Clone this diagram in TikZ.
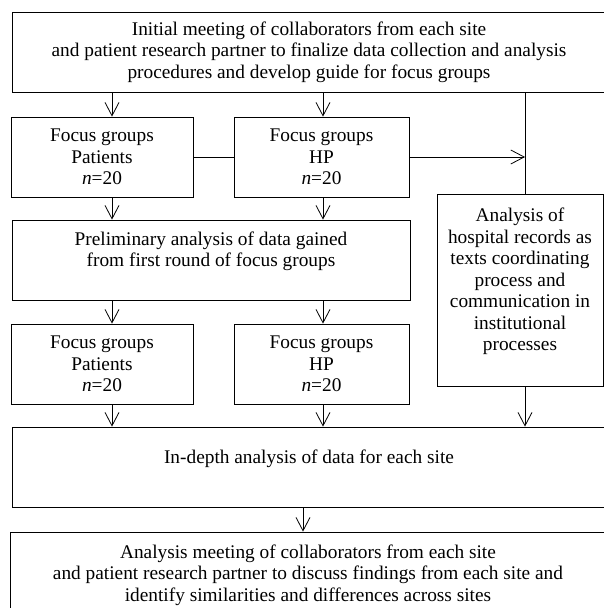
\documentclass[tikz,border=0pt]{standalone}
\usepackage{fontspec}
\setmainfont{Liberation Serif}
\usepackage{tikz}
\usetikzlibrary{calc}
\usetikzlibrary{arrows.meta}

\tikzset{
  stage/.style={draw, line width=0.6pt, align=center, inner sep=0pt,
    font=\fontsize{14.5}{16.1}\selectfont},
  flow/.style={-{Straight Barb[length=10pt, width=10.5pt, line width=0.6pt]}, line width=0.6pt}
}

\begin{document}
\begin{tikzpicture}[x=0.75pt, y=-0.75pt]
\clip (0,0) rectangle (604,608);
\useasboundingbox (0,0) rectangle (604,608);
\coordinate (colA) at (112, 0);
\coordinate (colB) at (323, 0);
\coordinate (colC) at (525, 0);
\coordinate (colD) at (303, 0);
\node [stage, minimum width=594*0.75pt, minimum height=80*0.75pt] (init) at (309, 52)
  {Initial meeting of collaborators from each site\\and patient research partner to finalize data collection and analysis\\procedures and develop guide for focus groups};
\node [stage, minimum width=182*0.75pt, minimum height=80*0.75pt] (fgp1) at (102, 157)
  {Focus groups\\Patients\\\textit{n}=20};
\node [stage, minimum width=175*0.75pt, minimum height=80*0.75pt] (fghp1) at (321.5, 157)
  {Focus groups\\HP\\\textit{n}=20};
\node [stage, minimum width=398*0.75pt, minimum height=80*0.75pt] (prelim) at (211, 260)
  {Preliminary analysis of data gained\\from first round of focus groups\\~};
\node [stage, minimum width=182*0.75pt, minimum height=80*0.75pt] (fgp2) at (102, 364)
  {Focus groups\\Patients\\\textit{n}=20};
\node [stage, minimum width=175*0.75pt, minimum height=80*0.75pt] (fghp2) at (321.5, 364)
  {Focus groups\\HP\\\textit{n}=20};
\node [stage, minimum width=166*0.75pt, minimum height=192*0.75pt] (records) at (520, 290)
  {Analysis of\\hospital records as\\texts coordinating\\process and\\communication in\\institutional\\processes\\~};
\node [stage, minimum width=594*0.75pt, minimum height=80*0.75pt] (indepth) at (309, 467)
  {In-depth analysis of data for each site\\~};
\node [stage, minimum width=596*0.75pt, minimum height=86*0.75pt] (final) at (308, 575)
  {Analysis meeting of collaborators from each site\\and patient research partner to discuss findings from each site and\\identify similarities and differences across sites};
\draw [flow] (init.south -| colA) -- (fgp1.north -| colA);
\draw [flow] (init.south -| colB) -- (fghp1.north -| colB);
\draw [line width=0.6pt] (init.south -| colC) -- (records.north -| colC);
\draw [line width=0.6pt] (fgp1.east) -- (fghp1.west);
\draw [flow] (fghp1.east) -- (fghp1.east -| colC);
\draw [flow] (fgp1.south -| colA) -- (prelim.north -| colA);
\draw [flow] (fghp1.south -| colB) -- (prelim.north -| colB);
\draw [flow] (prelim.south -| colA) -- (fgp2.north -| colA);
\draw [flow] (prelim.south -| colB) -- (fghp2.north -| colB);
\draw [flow] (fgp2.south -| colA) -- (indepth.north -| colA);
\draw [flow] (fghp2.south -| colB) -- (indepth.north -| colB);
\draw [flow] (records.south -| colC) -- (indepth.north -| colC);
\draw [flow] (indepth.south -| colD) -- (final.north -| colD);
\end{tikzpicture}
\end{document}
